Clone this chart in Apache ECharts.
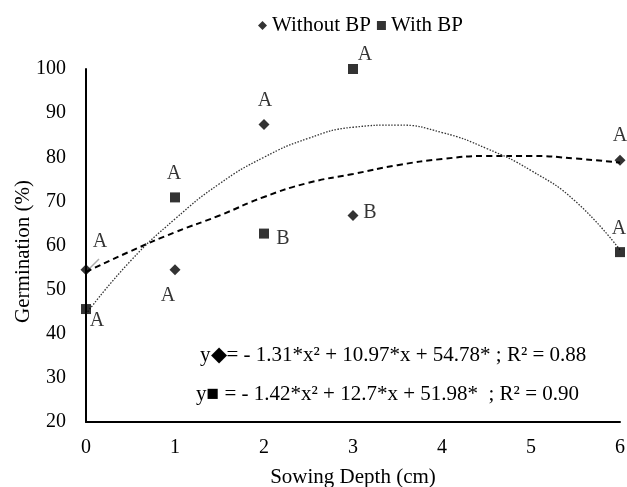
<!DOCTYPE html>
<html>
<head>
<meta charset="utf-8">
<script src="https://cdn.jsdelivr.net/npm/echarts@6/dist/echarts.min.js"></script>
<style>
  html, body { margin: 0; padding: 0; background: #fff; }
  #chart { width: 627px; height: 487px; }
</style>
</head>
<body>
<div id="chart"></div>
<script>
// --- data ---
const depths = [0, 1, 2, 3, 6];
const withoutBP = [54.5, 54.5, 87.4, 66.8, 79.3];
const withBP = [45.6, 70.9, 62.7, 100, 58.5];
const withoutLetters = ['A', 'A', 'A', 'B', 'A'];
const withLetters = ['A', 'A', 'B', 'A', 'A'];

// trend lines as drawn in the figure (sampled by eye)
const trendX = [0, 0.5, 1, 1.5, 2, 2.5, 3, 3.5, 4, 4.5, 5, 5.5, 6];
const trendWithout = [54, 58.7, 63, 66.8, 71, 74.2, 76.2, 78.2, 79.6, 80.3, 80.3, 79.7, 78.8];
const trendWith = [44.5, 56.5, 66, 74, 80, 84.3, 86.8, 87.3, 85.6, 82, 77, 70, 59];

const eqWithout = 'y\u25C6= - 1.31*x\u00B2 + 10.97*x + 54.78* ; R\u00B2 = 0.88';
const eqWith = 'y\u25A0 = - 1.42*x\u00B2 + 12.7*x + 51.98*  ; R\u00B2 = 0.90';

// label offsets (px) from the point centre
const withoutOffsets = [[14, -28], [-7, 26], [1, -24], [17, -3], [0, -25]];
const withOffsets = [[11, 12], [-1, -24], [19, 5], [12, -14], [-1, -23]];

const font = '"Liberation Serif", "Times New Roman", serif';

function pts(xs, ys) {
    return xs.map((x, i) => [x, ys[i]]);
}

function labelled(ys, letters, offsets) {
    return depths.map((d, i) => ({
        value: [d, ys[i]],
        label: {
            show: true,
            position: 'inside',
            offset: offsets[i],
            formatter: letters[i]
        }
    }));
}

const chart = echarts.init(document.getElementById('chart'));

const option = {
    backgroundColor: '#fff',
    animation: false,
    textStyle: { fontFamily: font, color: '#000' },
    legend: {
        top: 10,
        left: 253,
        itemWidth: 9,
        itemHeight: 9,
        itemGap: 6,
        data: ['Without BP', 'With BP'],
        textStyle: { fontFamily: font, fontSize: 21, color: '#000' }
    },
    grid: { left: 86, right: 7, top: 69, bottom: 65, outerBoundsMode: 'none', containLabel: false },
    xAxis: {
        type: 'value',
        min: 0,
        max: 6,
        interval: 1,
        name: 'Sowing Depth (cm)',
        nameLocation: 'middle',
        nameGap: 45,
        nameMoveOverlap: false,
        nameTextStyle: { fontFamily: font, fontSize: 21, color: '#000' },
        axisLine: { lineStyle: { color: '#000', width: 2 } },
        axisTick: { show: false },
        splitLine: { show: false },
        axisLabel: { margin: 16, fontFamily: font, fontSize: 20, color: '#000' }
    },
    yAxis: {
        type: 'value',
        min: 20,
        max: 100,
        interval: 10,
        name: 'Germination (%)',
        nameLocation: 'middle',
        nameGap: 52,
        nameMoveOverlap: false,
        nameTextStyle: { fontFamily: font, fontSize: 21, color: '#000', padding: [0, 12, 0, 0] },
        axisLine: { show: true, lineStyle: { color: '#000', width: 2 } },
        axisTick: { show: false },
        splitLine: { show: false },
        axisLabel: { margin: 20, fontFamily: font, fontSize: 20, color: '#000' }
    },
    graphic: [
        {
            type: 'text', left: 200, top: 345,
            style: { text: eqWithout, font: '21px ' + font, fill: '#000' }
        },
        {
            type: 'text', left: 196, top: 384,
            style: { text: eqWith, font: '21px ' + font, fill: '#000' }
        },
        {
            type: 'line',
            shape: { x1: 88, y1: 270, x2: 99, y2: 259 },
            style: { stroke: '#aaa', lineWidth: 1.5 }
        }
    ],
    series: [
        {
            name: 'Without BP trend',
            type: 'line',
            data: pts(trendX, trendWithout),
            smooth: true,
            showSymbol: false,
            silent: true,
            lineStyle: { color: '#000', width: 2, type: [6, 4] },
            z: 1
        },
        {
            name: 'With BP trend',
            type: 'line',
            data: pts(trendX, trendWith),
            smooth: true,
            showSymbol: false,
            silent: true,
            lineStyle: { color: '#333', width: 1.3, type: [1.5, 1.5] },
            z: 1
        },
        {
            name: 'Without BP',
            type: 'scatter',
            symbol: 'diamond',
            symbolSize: 11,
            itemStyle: { color: '#000' },
            label: { fontFamily: font, fontSize: 20, color: '#000' },
            data: labelled(withoutBP, withoutLetters, withoutOffsets),
            z: 3
        },
        {
            name: 'With BP',
            type: 'scatter',
            symbol: 'rect',
            symbolSize: 10,
            itemStyle: { color: '#000' },
            label: { fontFamily: font, fontSize: 20, color: '#000' },
            data: labelled(withBP, withLetters, withOffsets),
            z: 3
        }
    ]
};

chart.setOption(option);
</script>
</body>
</html>
